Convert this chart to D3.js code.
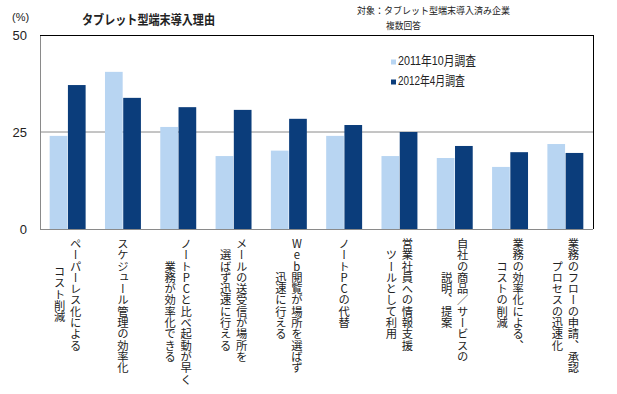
<!DOCTYPE html>
<html>
<head>
<meta charset="utf-8">
<script src="https://cdn.jsdelivr.net/npm/d3@7"></script>
<style>
  body { margin: 0; background: #fff; }
  svg text { font-family: "Liberation Sans", Arial, "Noto Sans CJK JP", sans-serif; fill: #222; }
  .jp { font-family: "Noto Sans CJK JP", sans-serif; }
  .vlabel { font-family: "Noto Sans CJK JP", sans-serif; writing-mode: vertical-rl; text-orientation: upright; }
</style>
</head>
<body>
<svg id="chart" width="617" height="394"></svg>
<script>
// category labels (each entry = lines of the vertical label, first line on the right)
const categories = [
  ["ペーパーレス化による", "コスト削減"],
  ["スケジュール管理の効率化"],
  ["ノートPCと比べ起動が早く", "業務が効率化できる"],
  ["メールの送受信が場所を", "選ばず迅速に行える"],
  ["Web閲覧が場所を選ばず", "迅速に行える"],
  ["ノートPCの代替"],
  ["営業社員への情報支援", "ツールとして利用"],
  ["自社の商品／サービスの", "説明、提案"],
  ["業務の効率化による、", "コストの削減"],
  ["業務のフローの申請、承認", "プロセスの迅速化"]
];
const seriesNames = ["2011年10月調査", "2012年4月調査"];
const values2011 = [24.0, 40.5, 26.3, 18.8, 20.2, 24.0, 18.8, 18.3, 16.0, 21.9];
const values2012 = [37.1, 33.8, 31.4, 30.7, 28.4, 26.8, 25.0, 21.4, 19.8, 19.6];
const colors = ["#b8d5f2", "#0b3d7b"];
const yTicks = [0, 25, 50];

const svg = d3.select("#chart");
const plot = { left: 40, right: 593, top: 35, bottom: 229 };
const keys = categories.map(c => c.join(""));

const x0 = d3.scaleBand().domain(keys).range([plot.left, plot.right])
  .paddingInner(0.35).paddingOuter(0.175);
const x1 = d3.scaleBand().domain(seriesNames).range([0, x0.bandwidth()]).paddingInner(0.03);
const y = d3.scaleLinear().domain([0, 50]).range([plot.bottom, plot.top]);

// gridline at 25
svg.append("line")
  .attr("x1", plot.left).attr("x2", plot.right)
  .attr("y1", y(25)).attr("y2", y(25))
  .attr("stroke", "#8a8a8a").attr("stroke-width", 1);

// bars
const rows = keys.map((k, i) => ({ key: k, vals: [values2011[i], values2012[i]] }));
const groups = svg.append("g").selectAll("g").data(rows).join("g")
  .attr("transform", d => `translate(${x0(d.key)},0)`);
groups.selectAll("rect")
  .data(d => d.vals.map((v, j) => ({ name: seriesNames[j], v: v, j: j })))
  .join("rect")
  .attr("x", d => x1(d.name))
  .attr("y", d => y(d.v))
  .attr("width", x1.bandwidth())
  .attr("height", d => y(0) - y(d.v))
  .attr("fill", d => colors[d.j]);

// frame: gray left / bottom axis, black top / right
svg.append("line").attr("x1", plot.left + 0.5).attr("x2", plot.left + 0.5)
  .attr("y1", plot.top).attr("y2", plot.bottom).attr("stroke", "#8a8a8a");
svg.append("line").attr("x1", plot.left).attr("x2", plot.right)
  .attr("y1", plot.bottom + 0.5).attr("y2", plot.bottom + 0.5).attr("stroke", "#8a8a8a");
svg.append("line").attr("x1", plot.left).attr("x2", plot.right + 0.5)
  .attr("y1", plot.top + 0.5).attr("y2", plot.top + 0.5).attr("stroke", "#000");
svg.append("line").attr("x1", plot.right + 0.5).attr("x2", plot.right + 0.5)
  .attr("y1", plot.top).attr("y2", plot.bottom).attr("stroke", "#000");

// y axis labels
const yAxis = svg.append("g").attr("transform", `translate(${plot.left},0)`)
  .call(d3.axisLeft(y).tickValues(yTicks).tickSize(0).tickPadding(13));
yAxis.select(".domain").remove();
yAxis.selectAll("text").style("font-size", "13px").attr("fill", "#222");

svg.append("text").attr("x", 12).attr("y", 18).attr("dominant-baseline", "middle")
  .style("font-size", "11px").text("(%)");

// title
svg.append("text").attr("class", "jp").attr("x", 82).attr("y", 20)
  .attr("dominant-baseline", "middle")
  .attr("textLength", 133).attr("lengthAdjust", "spacingAndGlyphs")
  .style("font-size", "13px").style("font-weight", "bold")
  .text("タブレット型端末導入理由");

// note
svg.append("text").attr("class", "jp").attr("x", 357).attr("y", 11.5)
  .attr("dominant-baseline", "middle")
  .attr("textLength", 153).attr("lengthAdjust", "spacingAndGlyphs")
  .style("font-size", "9.5px").text("対象：タブレット型端末導入済み企業");
svg.append("text").attr("class", "jp").attr("x", 386).attr("y", 26)
  .attr("dominant-baseline", "middle")
  .attr("textLength", 35).attr("lengthAdjust", "spacingAndGlyphs")
  .style("font-size", "9.5px").text("複数回答");

// legend
const legend = svg.append("g").selectAll("g").data(seriesNames).join("g")
  .attr("transform", (d, i) => `translate(391,${62 + i * 20})`);
legend.append("rect").attr("x", 0).attr("y", -2.5).attr("width", 5).attr("height", 5)
  .attr("fill", (d, i) => colors[i]);
legend.append("text").attr("x", 7).attr("y", 0).attr("dominant-baseline", "middle")
  .attr("textLength", (d, i) => i === 0 ? 78 : 67).attr("lengthAdjust", "spacingAndGlyphs")
  .style("font-size", "13px").text(d => d);

// vertical category labels
const fs = 11.3, lineGap = 16, labelTop = 238;
categories.forEach((lines, i) => {
  const cx = x0(keys[i]) + x0.bandwidth() / 2;
  const maxLen = d3.max(lines, l => l.length);
  const cy = labelTop + maxLen * fs / 2;
  lines.forEach((line, k) => {
    const lx = cx + ((lines.length - 1) / 2 - k) * lineGap;
    svg.append("text").attr("class", "vlabel")
      .attr("x", lx).attr("y", cy)
      .attr("text-anchor", "middle")
      .style("font-size", fs + "px")
      .text(line);
  });
});
</script>
</body>
</html>
